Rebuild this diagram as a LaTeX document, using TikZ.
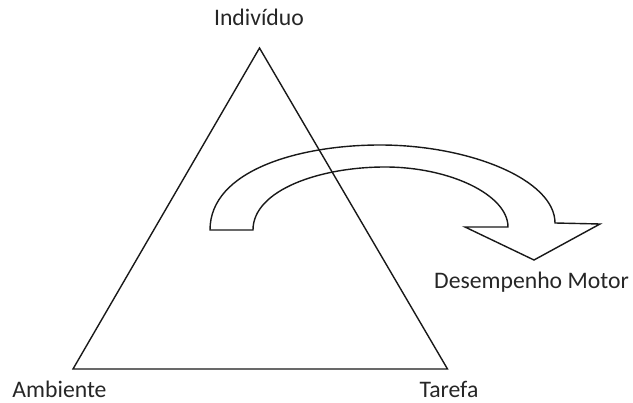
\documentclass[tikz,border=0pt]{standalone}
\usepackage{fontspec}
\setmainfont{Carlito}
\begin{document}
\begin{tikzpicture}[x=1pt,y=-1pt,
  lbl/.style={anchor=base,inner sep=0pt,font=\fontsize{23.7}{28}\selectfont,text=black!85},
  shapeline/.style={draw=black!90,line width=1.4pt,line join=miter}]
\useasboundingbox (0,0) rectangle (633,403);
% triangle
\coordinate (top) at (259.5,48);
\coordinate (bl) at (73,369);
\coordinate (br) at (447.5,369);
\draw[shapeline] (top) -- (bl) -- (br) -- cycle;
% curved arrow
\coordinate (ol) at (210,230);
\coordinate (il) at (253,230);
\coordinate (it) at (385,167);
\coordinate (ir) at (508,227);
\coordinate (hl) at (465,227);
\coordinate (tip) at (534,260);
\coordinate (hr) at (600,224);
\coordinate (or) at (555,223);
\coordinate (ot) at (380,145);
\draw[shapeline] (ol) -- (il)
  .. controls (253,190) and (320,167) .. (it)
  .. controls (450,167) and (508,195) .. (ir)
  -- (hl) -- (tip) -- (hr) -- (or)
  .. controls (555,180) and (470,145) .. (ot)
  .. controls (300,145) and (210,170) .. (ol) -- cycle;
% labels
\node[lbl] (ind) at (259,26) {Indivíduo};
\node[lbl] (amb) at (59.5,398) {Ambiente};
\node[lbl] (tar) at (449,398) {Tarefa};
\node[lbl] (dm) at (531.5,289) {Desempenho Motor};
\end{tikzpicture}
\end{document}
